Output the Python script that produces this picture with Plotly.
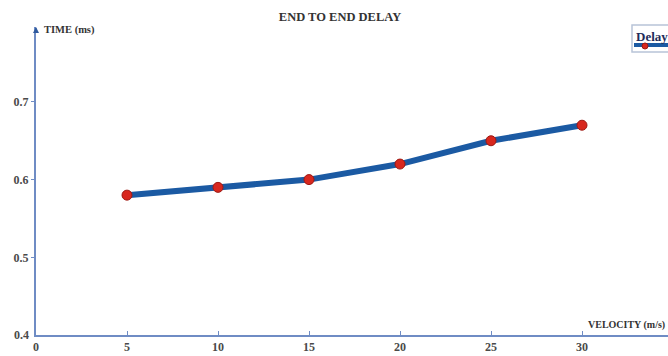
import plotly.graph_objects as go

# Measured end-to-end delay against node velocity
velocity = [5, 10, 15, 20, 25, 30]
delay_ms = [0.58, 0.59, 0.60, 0.62, 0.65, 0.67]
x_ticks = [0, 5, 10, 15, 20, 25, 30]
y_ticks = [0.5, 0.6, 0.7]

W, H = 668, 356
L, R, T, B = 36, 0, 27, 21
AXIS_COLOR = "#6f8cc4"
SERIF = "Liberation Serif"

fig = go.Figure()
fig.add_trace(go.Scatter(
    x=velocity, y=delay_ms, mode="lines+markers", name="Delay",
    line=dict(color="#1b5aa3", width=6),
    marker=dict(color="#d8271e", size=10, line=dict(color="#9e1a14", width=1)),
    showlegend=False,
))

px_per_x = 18.2
px_per_y = 777.0
x_max = (W - L - R) / px_per_x
y_max = 0.4 + (H - T - B) / px_per_y

tick_font = dict(family=SERIF, size=12, color="#4a4a4a", weight="bold")

fig.update_layout(
    width=W, height=H,
    margin=dict(l=L, r=R, t=T, b=B, pad=0, autoexpand=False),
    paper_bgcolor="white", plot_bgcolor="white",
    title=dict(text="END TO END DELAY", x=340 / W, xanchor="center",
               y=1 - 17 / H, yanchor="middle",
               font=dict(family=SERIF, size=12.5, color="#333333", weight="bold")),
    xaxis=dict(range=[0, x_max], tickvals=x_ticks, ticktext=[str(v) for v in x_ticks],
               showgrid=False, zeroline=False, showline=True, linecolor=AXIS_COLOR,
               linewidth=2, ticks="inside", ticklen=4, tickcolor=AXIS_COLOR,
               tickfont=tick_font),
    yaxis=dict(range=[0.4, y_max], tickvals=y_ticks, ticktext=[f"{v:.1f}" for v in y_ticks],
               showgrid=False, zeroline=False, showline=True, linecolor=AXIS_COLOR,
               linewidth=2, ticks="outside", ticklen=3, tickcolor=AXIS_COLOR,
               tickfont=tick_font),
    showlegend=False,
)

# Origin label on the y axis
fig.add_annotation(xref="paper", yref="paper", x=-0.008, y=0, text="0.4",
                   showarrow=False, xanchor="right", yanchor="middle", font=tick_font)

# Axis titles placed at the axis ends
fig.add_annotation(xref="paper", yref="paper", x=(42 - L) / (W - L), y=1 - (30 - T) / (H - T - B),
                   text="TIME (ms)", showarrow=False, xanchor="left", yanchor="middle",
                   font=dict(family=SERIF, size=10.5, color="#333333", weight="bold"))
fig.add_annotation(xref="paper", yref="paper", x=(586 - L) / (W - L), y=(335 - 325) / (H - T - B),
                   text="VELOCITY (m/s)", showarrow=False, xanchor="left", yanchor="middle",
                   font=dict(family=SERIF, size=10, color="#333333", weight="bold"))

# Small arrow head at the top of the y axis
fig.add_annotation(xref="paper", yref="paper", x=0, y=1.0, ax=0, ay=6,
                   showarrow=True, arrowhead=2, arrowsize=0.6, arrowwidth=2,
                   arrowcolor="#2f5a9e", text="")

# Legend box (drawn by hand so it sits partly outside the frame)
fig.add_shape(type="rect", xref="paper", yref="paper",
              x0=(632 - L) / (W - L), x1=(672 - L) / (W - L),
              y0=1 - (52 - T) / (H - T - B), y1=1 - (25 - T) / (H - T - B),
              line=dict(color="#b8c4d8", width=1.5), fillcolor="white")
fig.add_shape(type="line", xref="paper", yref="paper",
              x0=(634 - L) / (W - L), x1=(670 - L) / (W - L),
              y0=1 - (45 - T) / (H - T - B), y1=1 - (45 - T) / (H - T - B),
              line=dict(color="#1b5aa3", width=4))
fig.add_shape(type="circle", xref="paper", yref="paper",
              x0=(642 - L) / (W - L), x1=(648 - L) / (W - L),
              y0=1 - (49 - T) / (H - T - B), y1=1 - (43 - T) / (H - T - B),
              fillcolor="#d8271e", line=dict(color="#9e1a14", width=1))
fig.add_annotation(xref="paper", yref="paper", x=(634 - L) / (W - L),
                   y=1 - (37 - T) / (H - T - B), text="Delay", showarrow=False,
                   xanchor="left", yanchor="middle",
                   font=dict(family=SERIF, size=13, color="#1f2d5a", weight="bold"))

fig.write_html("out.html")
